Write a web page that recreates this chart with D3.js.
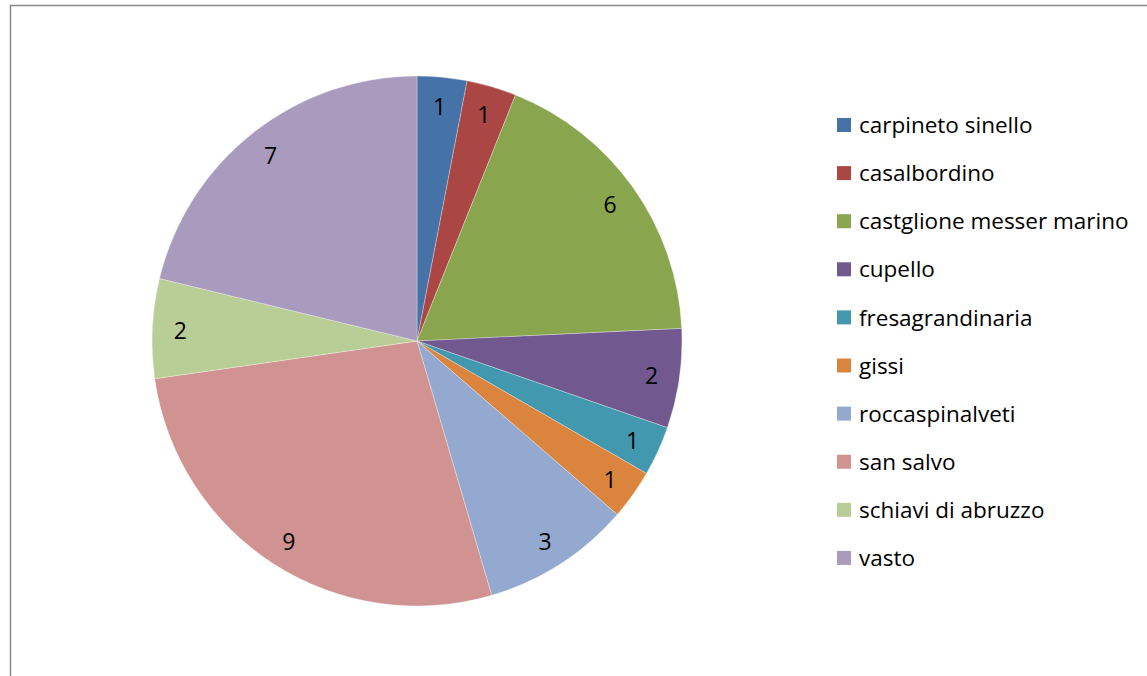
<!DOCTYPE html>
<html><head><meta charset="utf-8">
<script src="https://cdn.jsdelivr.net/npm/d3@7"></script>
<style>body{margin:0;background:#fff;overflow:hidden}svg{display:block}text{font-family:"Open Sans",sans-serif}</style>
</head><body>
<svg id="c" width="1147" height="676"></svg>
<script>
const categories = ["carpineto sinello","casalbordino","castglione messer marino","cupello","fresagrandinaria","gissi","roccaspinalveti","san salvo","schiavi di abruzzo","vasto"];
const values = [1,1,6,2,1,1,3,9,2,7];
const colors = ["#4572A7","#AA4643","#89A54E","#71588F","#4198AF","#DB843D","#93A9CF","#D19392","#B9CD96","#A99BBD"];

const svg = d3.select("#c");
svg.append("rect").attr("x",10.5).attr("y",5.5).attr("width",1150).attr("height",700)
  .attr("fill","#fff").attr("stroke","#888").attr("stroke-width",1.5);

const cx = 417, cy = 341, R = 265;
const data = categories.map((c,i)=>({name:c,value:values[i],color:colors[i]}));
const pie = d3.pie().value(d=>d.value).sort(null);
const arcs = pie(data);
const arc = d3.arc().innerRadius(0).outerRadius(R);
const labelArc = d3.arc().innerRadius(237).outerRadius(237);
const g = svg.append("g").attr("transform",`translate(${cx},${cy})`);
g.selectAll("path").data(arcs).join("path").attr("d",arc).attr("fill",d=>d.data.color)
  .attr("stroke","#fff").attr("stroke-width",0.5).attr("stroke-opacity",0.6);
g.selectAll("text").data(arcs).join("text")
  .attr("transform",d=>`translate(${labelArc.centroid(d)})`)
  .attr("text-anchor","middle").attr("dy","0.42em").attr("font-size",23).attr("fill","#000")
  .text(d=>d.data.value);

const leg = svg.append("g").attr("transform","translate(837,125)");
const rows = leg.selectAll("g").data(data).join("g").attr("transform",(d,i)=>`translate(0,${i*48.1})`);
rows.append("rect").attr("x",0).attr("y",-7).attr("width",14).attr("height",14).attr("fill",d=>d.color);
rows.append("text").attr("x",22).attr("dy","0.36em").attr("font-size",22.5).attr("fill","#000").text(d=>d.name);
</script>
</body></html>
